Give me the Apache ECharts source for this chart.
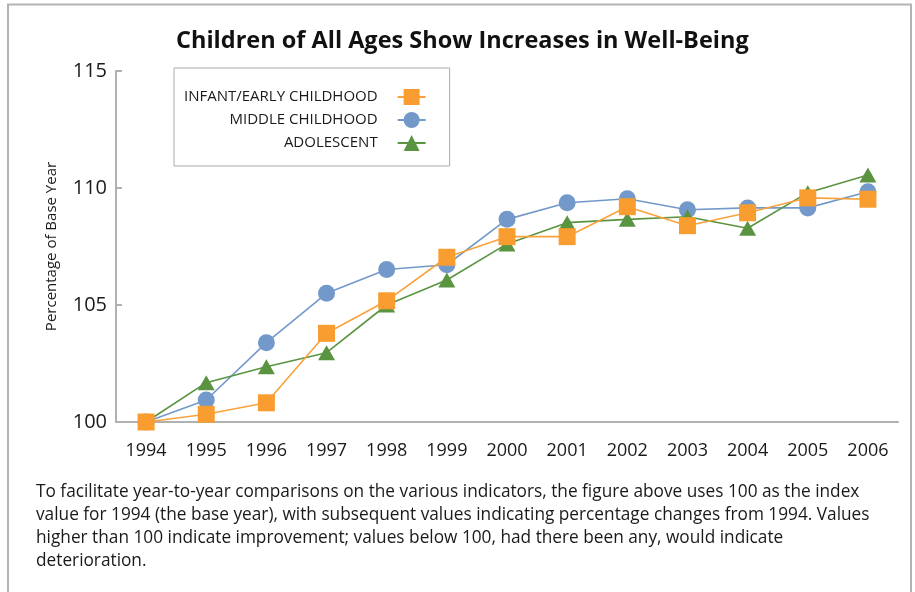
<!DOCTYPE html>
<html>
<head>
<meta charset="utf-8">
<script src="https://cdn.jsdelivr.net/npm/echarts@6/dist/echarts.min.js"></script>
<style>html,body{margin:0;padding:0;background:#fff;}#chart{width:915px;height:592px;}</style>
</head>
<body>
<div id="chart"></div>
<script>
const years = ['1994','1995','1996','1997','1998','1999','2000','2001','2002','2003','2004','2005','2006'];
const infant = [100, 100.33, 100.82, 103.79, 105.18, 107.04, 107.92, 107.92, 109.2, 108.39, 108.94, 109.58, 109.52];
const middle = [100, 100.94, 103.39, 105.5, 106.52, 106.72, 108.66, 109.37, 109.54, 109.07, 109.15, 109.15, 109.84];
const adolescent = [100, 101.68, 102.36, 102.96, 105.0, 106.07, 107.61, 108.52, 108.66, 108.77, 108.28, 109.8, 110.56];
const seriesNames = ['INFANT/EARLY CHILDHOOD', 'MIDDLE CHILDHOOD', 'ADOLESCENT'];
const titleText = 'Children of All Ages Show Increases in Well-Being';
const yAxisName = 'Percentage of Base Year';
const footnote = 'To facilitate year-to-year comparisons on the various indicators, the figure above uses 100 as the index\nvalue for 1994 (the base year), with subsequent values indicating percentage changes from 1994. Values\nhigher than 100 indicate improvement; values below 100, had there been any, would indicate\ndeterioration.';

const SANS = '"Open Sans", "Liberation Sans", sans-serif';
const TXT = '#1a1a1a';
const AX = '#b0b0b0';

const chart = echarts.init(document.getElementById('chart'));
chart.setOption({
  animation: false,
  backgroundColor: '#fff',
  graphic: [{
    type: 'rect', silent: true,
    shape: {x: 8, y: 4.5, width: 903, height: 700},
    style: {fill: 'none', stroke: '#b3b3b3', lineWidth: 2}
  }],
  title: [{
    text: titleText, left: 176, top: 29, padding: 0,
    textStyle: {fontFamily: SANS, fontWeight: 'bold', fontSize: 23.5, color: '#111'}
  }, {
    text: footnote, left: 36, top: 481, padding: 0,
    textStyle: {fontFamily: SANS, fontWeight: 'normal', fontSize: 17.25, lineHeight: 23, color: TXT}
  }],
  legend: {
    orient: 'vertical', left: 174, top: 68, align: 'right',
    data: seriesNames,
    backgroundColor: '#fff',
    borderColor: '#aaaaaa', borderWidth: 1,
    padding: [21, 23, 15, 10],
    itemWidth: 28, itemHeight: 20, itemGap: 7,
    textStyle: {fontFamily: SANS, fontSize: 15, color: TXT, padding: [0, 15, 0, 0]}
  },
  grid: {left: 116, right: 17, top: 71, bottom: 170},
  xAxis: {
    type: 'category', data: years, boundaryGap: true,
    axisLine: {lineStyle: {color: AX, width: 2}},
    axisTick: {inside: true, length: 5, lineStyle: {color: AX, width: 2}},
    axisLabel: {fontFamily: SANS, fontSize: 18, color: TXT, margin: 20}
  },
  yAxis: {
    type: 'value', min: 100, max: 115, interval: 5,
    name: yAxisName, nameLocation: 'middle', nameRotate: 90, nameGap: 57,
    nameTextStyle: {fontFamily: SANS, fontSize: 15, color: TXT},
    axisLine: {show: true, lineStyle: {color: AX, width: 2}},
    axisTick: {show: true, inside: true, length: 6, lineStyle: {color: AX, width: 2}},
    splitLine: {show: false},
    axisLabel: {fontFamily: SANS, fontSize: 20, color: TXT, margin: 9}
  },
  series: [{
    name: seriesNames[0], type: 'line', data: infant, z: 5,
    symbol: 'rect', symbolSize: 17,
    itemStyle: {color: '#F99D31'},
    lineStyle: {color: '#F9A23C', width: 1.6}
  }, {
    name: seriesNames[1], type: 'line', data: middle, z: 3,
    symbol: 'circle', symbolSize: 17,
    itemStyle: {color: '#7399CB'},
    lineStyle: {color: '#7399CB', width: 1.6}
  }, {
    name: seriesNames[2], type: 'line', data: adolescent, z: 4,
    symbol: 'triangle', symbolSize: [17, 15],
    itemStyle: {color: '#5A9441'},
    lineStyle: {color: '#5A9441', width: 1.6}
  }]
});
</script>
</body>
</html>
